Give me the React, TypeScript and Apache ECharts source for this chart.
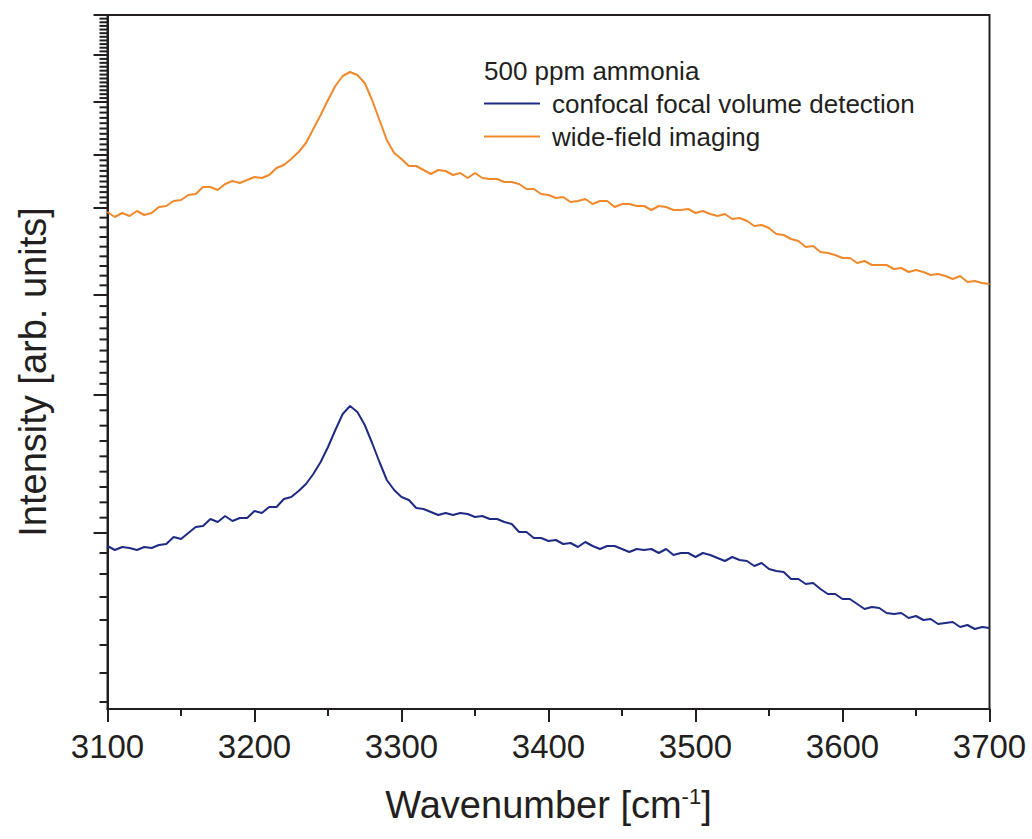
import React, { useEffect, useRef } from "react";
import * as echarts from "echarts";

// Wavenumber grid (cm^-1): first value and spacing of the sampled spectra
const WN_START = 3100;
const WN_STEP = 5;

// Intensity [arb. units], one value every 5 cm^-1 from 3100 to 3700
const confocal = [
  163, 159, 162, 161, 159, 162, 161, 164, 165, 172,
  170, 176, 182, 183, 190, 187, 193, 188, 191, 191,
  198, 196, 202, 202, 210, 212, 218, 225, 235, 247,
  262, 279, 295, 303, 297, 284, 266, 247, 229, 219,
  212, 209, 201, 200, 197, 194, 196, 194, 196, 195,
  192, 193, 190, 190, 187, 185, 177, 177, 171, 171,
  168, 169, 165, 166, 162, 167, 163, 160, 163, 163,
  160, 157, 160, 159, 160, 156, 160, 154, 156, 156,
  152, 156, 154, 151, 148, 152, 149, 148, 143, 146,
  140, 138, 137, 130, 130, 125, 126, 120, 115, 115,
  110, 110, 105, 100, 102, 101, 96, 95, 96, 91,
  93, 89, 90, 85, 86, 87, 82, 84, 80, 82,
  81,
];

const wideField = [
  497, 492, 496, 493, 498, 494, 496, 502, 503, 508,
  509, 514, 515, 522, 522, 519, 525, 528, 526, 529,
  532, 531, 534, 541, 544, 550, 557, 566, 580, 594,
  609, 623, 633, 637, 634, 626, 609, 589, 569, 556,
  550, 543, 543, 539, 535, 539, 538, 534, 536, 531,
  536, 531, 530, 530, 527, 527, 525, 520, 520, 515,
  514, 511, 512, 507, 508, 510, 505, 508, 508, 502,
  505, 505, 503, 503, 499, 503, 502, 499, 499, 500,
  496, 498, 495, 493, 495, 490, 491, 488, 483, 484,
  481, 475, 474, 470, 468, 462, 463, 457, 456, 454,
  451, 451, 446, 448, 444, 444, 444, 440, 441, 437,
  439, 437, 434, 435, 433, 430, 433, 427, 428, 426,
  425,
];

// Y axis (unlabelled) tick marks, in intensity units
const yMajorTicks = [176, 314, 414, 501, 554, 607, 654, 694];
const yMinorDivisions = [9, 9, 9, 10, 10, 12, 11];
const yMinorBelowFirst = [7, 36, 64, 89, 112, 135, 156];

const X_MIN = 3100;
const X_MAX = 3700;
const Y_MIN = 0;
const Y_MAX = 694;

const FONT = "'Liberation Sans', Arial, Helvetica, sans-serif";
const INK = "#231f20";
const BLUE = "#1f2a84";
const ORANGE = "#f0892c";

export default function App() {
  const ref = useRef<HTMLDivElement>(null);

  useEffect(() => {
    if (!ref.current) return;
    const chart = echarts.init(ref.current, null, { renderer: "svg" });

    const toPairs = (vals: number[]) =>
      vals.map((v, i) => [WN_START + i * WN_STEP, v]);

    const tickData: number[][] = [];
    yMajorTicks.forEach((v) => tickData.push([X_MIN, v, 1]));
    yMinorBelowFirst.forEach((v) => tickData.push([X_MIN, v, 0]));
    for (let k = 0; k < yMajorTicks.length - 1; k++) {
      const a = yMajorTicks[k];
      const b = yMajorTicks[k + 1];
      const n = yMinorDivisions[k];
      for (let j = 1; j < n; j++) tickData.push([X_MIN, a + ((b - a) * j) / n, 0]);
    }

    chart.setOption({
      animation: false,
      backgroundColor: "#ffffff",
      grid: {
        left: 107.5,
        right: 42.5,
        top: 15,
        bottom: 130,
        show: true,
        borderColor: INK,
        borderWidth: 2,
        backgroundColor: "transparent",
      },
      xAxis: {
        type: "value",
        min: X_MIN,
        max: X_MAX,
        interval: 100,
        name: "Wavenumber [cm{sup|-1}]",
        nameLocation: "middle",
        nameGap: 76,
        nameTextStyle: {
          fontFamily: FONT,
          fontSize: 38,
          color: INK,
          rich: {
            sup: {
              fontFamily: FONT,
              fontSize: 22,
              color: INK,
              verticalAlign: "top",
              padding: [0, 0, 18, 0],
            },
          },
        },
        axisLine: { show: true, lineStyle: { color: INK, width: 2 } },
        axisTick: { show: true, inside: false, length: 13, lineStyle: { color: INK, width: 2 } },
        minorTick: { show: true, splitNumber: 2, length: 7, lineStyle: { color: INK, width: 2 } },
        axisLabel: {
          fontFamily: FONT,
          fontSize: 33,
          color: INK,
          margin: 21,
          formatter: (v: number) => String(v),
        },
        splitLine: { show: false },
      },
      yAxis: {
        type: "value",
        min: Y_MIN,
        max: Y_MAX,
        axisLine: { show: true, lineStyle: { color: INK, width: 2 } },
        axisTick: { show: false },
        axisLabel: { show: false },
        splitLine: { show: false },
      },
      legend: {
        orient: "vertical",
        left: 484,
        top: 87,
        padding: 0,
        itemWidth: 56,
        itemHeight: 2,
        itemGap: 0,
        icon: "rect",
        data: ["confocal focal volume detection", "wide-field imaging"],
        textStyle: {
          fontFamily: FONT,
          fontSize: 26,
          color: INK,
          lineHeight: 33,
          padding: [0, 0, 0, 7],
        },
      },
      graphic: [
        {
          type: "text",
          left: 484,
          top: 58,
          style: { text: "500 ppm ammonia", font: `26px ${FONT}`, fill: INK },
        },
        {
          type: "text",
          x: 33,
          y: 372,
          rotation: Math.PI / 2,
          style: {
            text: "Intensity [arb. units]",
            font: `38px ${FONT}`,
            fill: INK,
            align: "center",
            verticalAlign: "middle",
          },
        },
      ],
      series: [
        {
          name: "confocal focal volume detection",
          type: "line",
          data: toPairs(confocal),
          showSymbol: false,
          symbol: "none",
          lineStyle: { color: BLUE, width: 2 },
          itemStyle: { color: BLUE },
        },
        {
          name: "wide-field imaging",
          type: "line",
          data: toPairs(wideField),
          showSymbol: false,
          symbol: "none",
          lineStyle: { color: ORANGE, width: 2 },
          itemStyle: { color: ORANGE },
        },
        {
          name: "yTicks",
          type: "custom",
          silent: true,
          clip: false,
          encode: { x: 0, y: 1 },
          data: tickData,
          renderItem: (params: any, api: any) => {
            const p = api.coord([api.value(0), api.value(1)]);
            const len = api.value(2) === 1 ? 14 : 8;
            return {
              type: "line",
              shape: { x1: p[0] - len, y1: p[1], x2: p[0], y2: p[1] },
              style: { stroke: INK, lineWidth: 2 },
            };
          },
        },
      ],
    });

    return () => chart.dispose();
  }, []);

  return (
    <div
      ref={ref}
      style={{ position: "fixed", left: 0, top: 0, width: 1032, height: 839, background: "#fff" }}
    />
  );
}
